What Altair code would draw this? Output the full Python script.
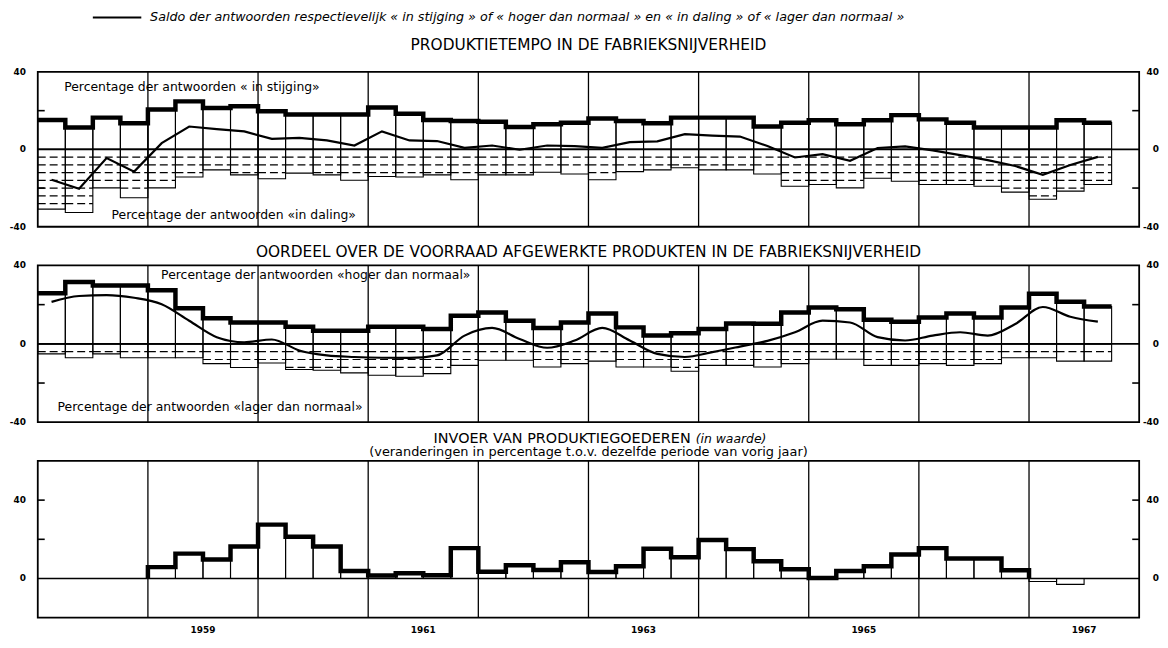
import altair as alt
import pandas as pd

# ---------------- data ----------------
FIRST_YEAR = 1958
LAST_YEAR = 1968
year_lines = [1959, 1960, 1961, 1962, 1963, 1964, 1965, 1966, 1967]
year_labels = [1959, 1961, 1963, 1965, 1967]

# Panel 1: Produktietempo, quarterly 1958 Q1 .. 1967 Q3
prod_up = [15.2, 11.3, 16.4, 13.5, 20.6, 24.8, 21.4, 22.3, 19.7, 18.0,
           18.0, 18.0, 21.6, 18.4, 15.2, 14.7, 14.3, 11.6, 13.0, 13.8,
           15.9, 14.7, 13.5, 16.4, 16.4, 16.4, 11.8, 13.7, 15.0, 13.0,
           15.0, 17.7, 15.5, 13.8, 11.3, 11.3, 11.3, 15.0, 13.8]
prod_down = [-30.9, -32.6, -19.9, -25.0, -19.9, -14.3, -10.6, -13.2, -15.2, -12.3,
             -13.2, -16.0, -14.0, -14.3, -13.2, -15.7, -13.2, -13.2, -11.8, -12.7,
             -15.7, -11.5, -10.6, -9.5, -10.6, -10.6, -12.7, -19.1, -18.2, -19.9,
             -14.9, -16.5, -18.2, -18.2, -19.1, -22.1, -25.8, -21.6, -18.2]
prod_saldo = [-15.7, -20.4, -4.5, -11.5, 3.2, 11.8, 10.5, 9.3, 5.4, 5.9,
              4.6, 2.0, 9.3, 4.6, 4.3, 0.8, 2.0, -0.2, 2.0, 1.7,
              0.8, 3.7, 4.1, 7.9, 7.1, 6.6, 1.7, -4.2, -2.5, -5.9,
              0.7, 1.5, -0.5, -3.0, -5.6, -8.6, -13.2, -8.1, -3.9]

# Panel 2: Voorraad afgewerkte produkten, quarterly 1958 Q1 .. 1967 Q3
stock_up = [25.8, 31.6, 29.8, 29.8, 27.3, 18.2, 13.1, 10.9, 10.9, 8.7,
            6.7, 6.7, 8.7, 8.7, 7.6, 14.3, 16.0, 11.8, 8.1, 10.9,
            15.5, 8.4, 4.2, 5.4, 7.6, 10.4, 10.2, 16.0, 18.5, 17.7,
            12.3, 11.3, 13.4, 15.5, 13.4, 18.5, 25.6, 21.5, 19.0]
stock_down = [-5.1, -7.1, -5.1, -7.1, -7.1, -7.1, -10.1, -12.1, -9.8, -13.1,
              -13.5, -14.8, -16.0, -16.5, -15.2, -11.0, -8.4, -8.4, -11.8, -10.1,
              -8.8, -11.8, -11.8, -14.0, -11.0, -11.0, -11.8, -10.1, -7.9, -7.9,
              -11.0, -11.0, -10.1, -11.0, -10.1, -7.1, -7.1, -8.8, -8.8]
stock_saldo = [21.4, 24.4, 24.9, 23.5, 20.2, 11.8, 3.4, 0.8, 2.2, -3.4,
               -5.9, -6.7, -7.1, -7.2, -5.9, 4.2, 8.1, 2.5, -2.0, 1.7,
               8.1, 1.7, -5.1, -6.7, -4.2, -1.4, 1.5, 5.9, 11.8, 10.9,
               3.4, 1.7, 4.2, 5.9, 4.2, 10.1, 18.8, 13.8, 11.3]

# Panel 3: Invoer van produktiegoederen, quarterly 1959 Q1 .. 1966 Q4 (+ 1967 provisional)
IMPORTS_START = 1959
imports_final = [5.8, 12.7, 9.7, 16.3, 27.5, 21.3, 16.3, 3.8,
                 1.5, 2.7, 1.7, 15.5, 3.5, 6.8, 4.3, 8.3,
                 3.3, 6.3, 15.2, 10.8, 19.7, 15.0, 8.8, 4.7,
                 0.3, 3.8, 6.3, 12.2, 15.5, 10.2, 10.2, 4.2]
imports_provisional = [-1.5, -3.0]

hatch_levels = [-4, -8, -12, -16, -20, -24, -28, -32]
survey_domain = [-40, 40]
survey_ticks = [-20, 20]
survey_labels = [-40, 0, 40]
survey_label_text = ["-40", "0", "40"]
imports_domain = [-20, 60]
imports_ticks = [20, 40]
imports_labels = [0, 40]
imports_label_text = ["0", "40"]

legend_text = ("Saldo der antwoorden respectievelijk « in stijging » of « hoger dan normaal » "
               "en « in daling » of « lager dan normaal »")
title1 = "PRODUKTIETEMPO IN DE FABRIEKSNIJVERHEID"
title2 = "OORDEEL OVER DE VOORRAAD AFGEWERKTE PRODUKTEN IN DE FABRIEKSNIJVERHEID"
title3a = "INVOER VAN PRODUKTIEGOEDEREN"
title3b = "(in waarde)"
title3c = "(veranderingen in percentage t.o.v. dezelfde periode van vorig jaar)"
prod_notes = ["Percentage der antwoorden « in stijging»", "Percentage der antwoorden «in daling»"]
prod_note_x = [1958.24, 1958.67]
prod_note_y = [32.4, -33.9]
stock_notes = ["Percentage der antwoorden «hoger dan normaal»", "Percentage der antwoorden «lager dan normaal»"]
stock_note_x = [1959.12, 1958.18]
stock_note_y = [35.3, -32.0]
legend_x = [1958.5, 1958.94]

# ---------------- helpers ----------------
W = 1110
H1, H2, H3 = 156, 158, 158
FONT = "DejaVu Sans"
XS = alt.Scale(domain=[FIRST_YEAR, LAST_YEAR], nice=False, zero=False)


def quarters(start, n):
    return [start + i / 4 for i in range(n)]


def bar_frame(start, values):
    n = len(values)
    return pd.DataFrame({"x": quarters(start, n),
                         "x2": [start + (i + 1) / 4 for i in range(n)],
                         "v": values, "base": [0] * n})


def step_frame(start, values, close_zero):
    n = len(values)
    xs = quarters(start, n) + [start + n / 4]
    ys = list(values) + [values[-1]]
    if close_zero:
        xs = [start] + xs + [start + n / 4]
        ys = [0] + ys + [0]
    return pd.DataFrame({"x": xs, "v": ys, "o": list(range(len(xs)))})


def hatch_frame(start, values):
    rows = []
    for i, v in enumerate(values):
        for lv in hatch_levels:
            if lv > v + 1.0:
                rows.append({"x": start + i / 4, "x2": start + (i + 1) / 4, "L": lv})
    return pd.DataFrame(rows)


def X(field):
    return alt.X(field, scale=XS, axis=None, title=None)


def text_mark(text, y, size, dx=0, align="center", style="normal"):
    return alt.Chart(pd.DataFrame({"t": [text]})).mark_text(
        align=align, baseline="middle", font=FONT, fontSize=size, fontStyle=style,
        color="black").encode(x=alt.value(W / 2 + dx), y=alt.value(y), text="t:N")


def frame_layers(ydom, ticks, labels, label_text):
    ysc = alt.Scale(domain=ydom, nice=False, zero=False)
    years = alt.Chart(pd.DataFrame({"yr": year_lines})).mark_rule(
        color="black", strokeWidth=1.3).encode(x=X("yr:Q"))
    zero = alt.Chart(pd.DataFrame({"z": [0]})).mark_rule(
        color="black", strokeWidth=1.7).encode(y=alt.Y("z:Q", scale=ysc, axis=None, title=None))
    tdf = pd.DataFrame({"t": ticks})
    lt = alt.Chart(tdf).mark_rule(color="black", strokeWidth=1.6).encode(
        x=alt.value(0), x2=alt.value(7), y=alt.Y("t:Q", scale=ysc, axis=None))
    rt = alt.Chart(tdf).mark_rule(color="black", strokeWidth=1.6).encode(
        x=alt.value(W - 7), x2=alt.value(W), y=alt.Y("t:Q", scale=ysc, axis=None))
    ldf = pd.DataFrame({"v": labels, "t": label_text})
    ll = alt.Chart(ldf).mark_text(
        align="right", baseline="middle", font=FONT, fontSize=9, fontWeight="bold",
        color="black").encode(x=alt.value(-12), y=alt.Y("v:Q", scale=ysc, axis=None),
                              text="t:N")
    rl = alt.Chart(ldf).mark_text(
        align="right", baseline="middle", font=FONT, fontSize=9, fontWeight="bold",
        color="black").encode(x=alt.value(W + 20), y=alt.Y("v:Q", scale=ysc, axis=None),
                              text="t:N")
    return ysc, [years, zero, lt, rt, ll, rl]


def survey_panel(h, up, down, saldo, notes, nx, ny, interp, extra):
    ysc, base = frame_layers(survey_domain, survey_ticks, survey_labels, survey_label_text)
    years, zero, lt, rt, ll, rl = base
    pos = alt.Chart(bar_frame(FIRST_YEAR, up)).mark_rect(
        fillOpacity=0, stroke="black", strokeWidth=1.1).encode(
        x=X("x:Q"), x2="x2", y=alt.Y("v:Q", scale=ysc, axis=None), y2="base")
    neg = alt.Chart(bar_frame(FIRST_YEAR, down)).mark_rect(
        fillOpacity=0, stroke="black", strokeWidth=1.1).encode(
        x=X("x:Q"), x2="x2", y=alt.Y("v:Q", scale=ysc, axis=None), y2="base")
    hatch = alt.Chart(hatch_frame(FIRST_YEAR, down)).mark_rule(
        color="black", strokeWidth=1.2, strokeDash=[8, 4]).encode(
        x=X("x:Q"), x2="x2", y=alt.Y("L:Q", scale=ysc, axis=None))
    step = alt.Chart(step_frame(FIRST_YEAR, up, False)).mark_line(
        interpolate="step-after", color="black", strokeWidth=4.5).encode(
        x=X("x:Q"), y=alt.Y("v:Q", scale=ysc, axis=None), order="o:Q")
    sdf = pd.DataFrame({"m": [q + 0.125 for q in quarters(FIRST_YEAR, len(saldo))], "s": saldo})
    line = alt.Chart(sdf).mark_line(interpolate=interp, color="black", strokeWidth=2.2).encode(
        x=X("m:Q"), y=alt.Y("s:Q", scale=ysc, axis=None))
    notes_l = alt.Chart(pd.DataFrame({"x": nx, "y": ny, "t": notes})).mark_text(
        align="left", baseline="middle", font=FONT, fontSize=12.5, color="black").encode(
        x=X("x:Q"), y=alt.Y("y:Q", scale=ysc, axis=None), text="t:N")
    return alt.layer(years, pos, neg, hatch, zero, step, line, lt, rt, ll, rl, notes_l,
                     *extra).properties(width=W, height=h)


legend_rule = alt.Chart(pd.DataFrame({"a": [legend_x[0]], "b": [legend_x[1]]})).mark_rule(
    color="black", strokeWidth=2).encode(x=X("a:Q"), x2="b", y=alt.value(-55))
legend_lbl = alt.Chart(pd.DataFrame({"x": [legend_x[1] + 0.08], "t": [legend_text]})).mark_text(
    align="left", baseline="middle", font=FONT, fontSize=12.8, fontStyle="italic",
    color="black").encode(x=X("x:Q"), y=alt.value(-55), text="t:N")

p1 = survey_panel(H1, prod_up, prod_down, prod_saldo, prod_notes, prod_note_x, prod_note_y,
                  "linear", [legend_rule, legend_lbl, text_mark(title1, -27, 15.5)])
p2 = survey_panel(H2, stock_up, stock_down, stock_saldo, stock_notes, stock_note_x,
                  stock_note_y, "monotone", [text_mark(title2, -14, 15.5)])

# Panel 3
ysc3, base3 = frame_layers(imports_domain, imports_ticks, imports_labels, imports_label_text)
bars3 = alt.Chart(bar_frame(IMPORTS_START, imports_final + imports_provisional)).mark_rect(
    fillOpacity=0, stroke="black", strokeWidth=1.1).encode(
    x=X("x:Q"), x2="x2", y=alt.Y("v:Q", scale=ysc3, axis=None), y2="base")
step3 = alt.Chart(step_frame(IMPORTS_START, imports_final, True)).mark_line(
    interpolate="step-after", color="black", strokeWidth=4.5).encode(
    x=X("x:Q"), y=alt.Y("v:Q", scale=ysc3, axis=None), order="o:Q")
ylab = alt.Chart(pd.DataFrame({"yr": [y + 0.5 for y in year_labels],
                               "t": [str(y) for y in year_labels]})).mark_text(
    align="center", baseline="middle", font=FONT, fontSize=9, fontWeight="bold",
    color="black").encode(x=X("yr:Q"), y=alt.value(H3 + 12), text="t:N")
p3 = alt.layer(base3[0], bars3, base3[1], step3, base3[2], base3[3], base3[4], base3[5], ylab,
               text_mark(title3a, -22, 14.5, dx=103, align="right"),
               text_mark(title3b, -22, 12.5, dx=108, align="left", style="italic"),
               text_mark(title3c, -9, 13)).properties(width=W, height=H3)

chart = alt.vconcat(p1, p2, p3, spacing=39, bounds="flush").properties(
    padding={"left": 0, "top": 0, "right": 0, "bottom": 0}
).configure_view(stroke="black", strokeWidth=1.8)

chart.save("out.html", embed_options={"renderer": "svg", "actions": False})
